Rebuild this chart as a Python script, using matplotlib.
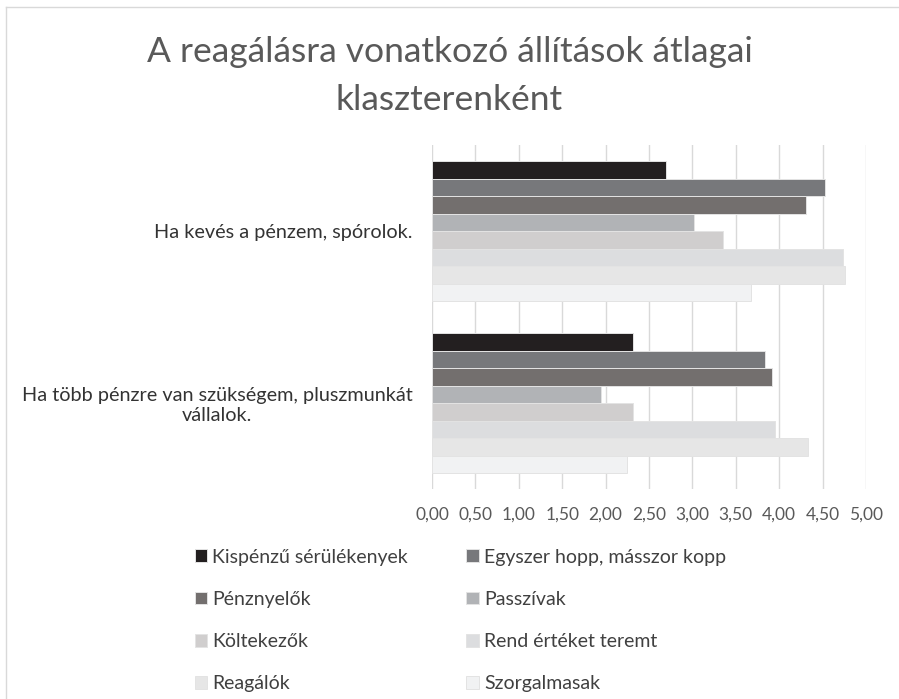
import matplotlib
matplotlib.use("Agg")
import matplotlib.pyplot as plt
import numpy as np

plt.rcParams['font.family'] = ['Lato', 'DejaVu Sans']

categories = ["Ha kevés a pénzem, spórolok.",
              "Ha több pénzre van szükségem, pluszmunkát\nvállalok."]
series = ["Kispénzű sérülékenyek", "Egyszer hopp, másszor kopp", "Pénznyelők",
          "Passzívak", "Költekezők", "Rend értéket teremt", "Reagálók",
          "Szorgalmasak"]
values = [
    [2.70, 2.32],
    [4.53, 3.84],
    [4.31, 3.92],
    [3.02, 1.95],
    [3.35, 2.31],
    [4.73, 3.95],
    [4.76, 4.33],
    [3.68, 2.25],
]
colors = ["#231f20", "#77787b", "#736f6e", "#b1b3b6", "#d0cece", "#dcdddf",
          "#e6e6e6", "#f1f2f3"]
xticks = np.arange(0, 5.01, 0.5)

W, H = 899, 699
fig = plt.figure(figsize=(W / 100, H / 100), dpi=100)
ax = fig.add_axes([432 / W, 1 - 489 / H, 434 / W, 344 / H])

n = len(series)
h = 17.5 / 172
ypos = np.arange(len(categories))
for j, (name, vals, c) in enumerate(zip(series, values, colors)):
    ax.barh(ypos + (j - (n - 1) / 2) * h, vals, height=h, color=c,
            edgecolor="#e3e3e3", linewidth=0.7, label=name, zorder=3)

ax.set_xlim(0, 5)
ax.set_ylim(1.5, -0.5)
ax.set_xticks(xticks)
ax.set_xticklabels([f"{t:.2f}".replace(".", ",") for t in xticks])
ax.set_yticks(ypos)
ax.set_yticklabels(categories, multialignment="center")
ax.tick_params(axis="x", length=0, pad=13, labelsize=12.5, labelcolor="#595959")
ax.tick_params(axis="y", length=0, pad=14, labelsize=14.3, labelcolor="#333333")
ax.grid(axis="x", color="#d9d9d9", linewidth=1, zorder=0)
for s in ax.spines.values():
    s.set_visible(False)

fig.text(0.5, 1 - 76 / H, "A reagálásra vonatkozó állítások átlagai\nklaszterenként",
         ha="center", va="center", fontsize=25.5, color="#595959",
         linespacing=1.6)

# legend is filled row by row in the original
handles, labels = ax.get_legend_handles_labels()
order = [0, 2, 4, 6, 1, 3, 5, 7]
leg = fig.legend([handles[i] for i in order], [labels[i] for i in order],
                 ncol=2, loc="upper left",
                 bbox_to_anchor=(177 / W, 1 - 531 / H), frameon=False,
                 fontsize=14, handlelength=0.62, handleheight=0.62,
                 handletextpad=0.3, labelspacing=1.3, columnspacing=3.0,
                 labelcolor="#404040")

# chart frame
fig.add_artist(plt.Line2D([6 / W, 1], [1 - 7 / H, 1 - 7 / H], color="#d9d9d9", lw=1))
fig.add_artist(plt.Line2D([6 / W, 6 / W], [0, 1 - 7 / H], color="#d9d9d9", lw=1))

fig.savefig("out.png", dpi=100)
